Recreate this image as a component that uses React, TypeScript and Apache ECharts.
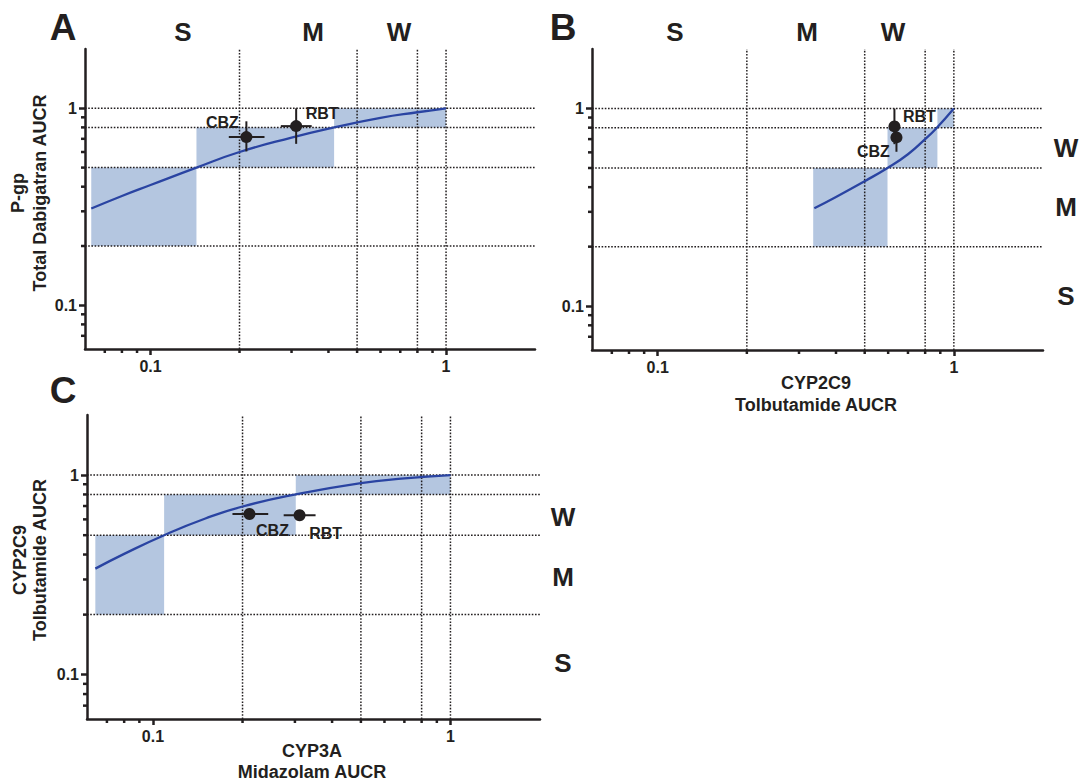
import React, { useEffect, useRef } from 'react';
import * as echarts from 'echarts';

// ---- Axis settings (both axes log10, same range in all panels) ----
const AX_MIN = 0.06;
const AX_MAX = 2;
const refLinesX = [0.2, 0.5, 0.8, 1];
const refLinesY = [0.2, 0.5, 0.8, 1];
const majorTicks = [0.1, 1];
const minorTicks = [0.07, 0.08, 0.09, 0.2, 0.3, 0.4, 0.5, 0.6, 0.7, 0.8, 0.9];
const tickLabels = ['0.1', '1'];

const drugNames = ['CBZ', 'RBT'];

// ---- Panel A: CYP3A (midazolam AUCR) vs P-gp (dabigatran AUCR) ----
const curveA_x = [0.063, 0.08, 0.1, 0.143, 0.2, 0.3, 0.418, 0.6, 0.8, 1];
const curveA_y = [0.31, 0.359, 0.408, 0.5, 0.6, 0.71, 0.8, 0.895, 0.955, 1];
// [xFrom, xTo, yFrom, yTo]
const rectsA = [
  [0.063, 0.143, 0.2, 0.5],
  [0.143, 0.418, 0.5, 0.8],
  [0.418, 1, 0.8, 1],
];
// [x, y, xLow, xHigh, yLow, yHigh]
const pointsA = [
  [0.211, 0.714, 0.184, 0.243, 0.604, 0.859],
  [0.311, 0.812, 0.276, 0.351, 0.66, 1.0],
];

// ---- Panel B: CYP2C9 (tolbutamide AUCR) vs P-gp (dabigatran AUCR) ----
const curveB_x = [0.338, 0.4, 0.5, 0.597, 0.7, 0.8, 0.87, 1];
const curveB_y = [0.313, 0.357, 0.429, 0.5, 0.587, 0.7, 0.79, 1];
const rectsB = [
  [0.335, 0.597, 0.2, 0.5],
  [0.597, 0.88, 0.5, 0.8],
  [0.88, 1, 0.8, 1],
];
const pointsB = [
  [0.64, 0.714, 0.64, 0.64, 0.604, 0.859],
  [0.63, 0.812, 0.63, 0.63, 0.66, 1.0],
];

// ---- Panel C: CYP3A (midazolam AUCR) vs CYP2C9 (tolbutamide AUCR) ----
const curveC_x = [0.064, 0.08, 0.109, 0.15, 0.2, 0.302, 0.5, 0.7, 1];
const curveC_y = [0.34, 0.403, 0.5, 0.606, 0.696, 0.8, 0.912, 0.962, 1];
const rectsC = [
  [0.064, 0.109, 0.2, 0.5],
  [0.109, 0.302, 0.5, 0.8],
  [0.302, 1, 0.8, 1],
];
const pointsC = [
  [0.211, 0.638, 0.185, 0.244, 0.638, 0.638],
  [0.311, 0.629, 0.275, 0.352, 0.629, 0.629],
];

// ---- Styles ----
const FONT = '"Liberation Sans", Arial, Helvetica, sans-serif';
const INK = '#231f20';
const CURVE = '#2a44a2';
const SHADE = '#b4c6e0';

const grids = [
  { left: 85, top: 49, width: 450, height: 300 },
  { left: 592, top: 49, width: 451, height: 301 },
  { left: 87, top: 415, width: 453, height: 304 },
];
const labelOffsets = [
  [[-24, -15], [26, -13]],
  [[-23, 14], [25, -10]],
  [[23, 16], [26, 18]],
];

function axisCommon(gridIndex: number, isX: boolean) {
  return {
    gridIndex,
    type: 'log',
    logBase: 10,
    min: AX_MIN,
    max: AX_MAX,
    axisLine: { show: true, onZero: false, lineStyle: { color: INK, width: 2.5 } },
    axisTick: {
      show: true,
      customValues: majorTicks,
      length: 6,
      lineStyle: { color: INK, width: 2.5 },
    },
    splitLine: { show: false },
    minorTick: { show: false },
    axisLabel: {
      showMinLabel: false,
      showMaxLabel: false,
      margin: isX ? 9 : 8,
      color: INK,
      fontSize: 16,
      fontWeight: 'bold',
      fontFamily: FONT,
      formatter: (v: number) => {
        for (let i = 0; i < majorTicks.length; i++) {
          if (Math.abs(v - majorTicks[i]) < 1e-9) return tickLabels[i];
        }
        return '';
      },
    },
  };
}

function panelSeries(
  gi: number,
  curveX: number[],
  curveY: number[],
  rects: number[][],
  points: number[][]
) {
  const base = { xAxisIndex: gi, yAxisIndex: gi };
  const offs = labelOffsets[gi];
  return [
    {
      ...base,
      type: 'custom',
      z: 1,
      clip: false,
      encode: { x: [0, 1], y: [2, 3] },
      data: rects,
      renderItem: (params: any, api: any) => {
        const p0 = api.coord([api.value(0), api.value(2)]);
        const p1 = api.coord([api.value(1), api.value(3)]);
        return {
          type: 'rect',
          shape: { x: p0[0], y: p1[1], width: p1[0] - p0[0], height: p0[1] - p1[1] },
          style: { fill: SHADE },
        };
      },
    },
    {
      ...base,
      type: 'custom',
      z: 2,
      clip: false,
      data: refLinesX.map((v) => [v, 1]),
      renderItem: (params: any, api: any) => {
        const a = api.coord([api.value(0), AX_MIN]);
        const b = api.coord([api.value(0), AX_MAX]);
        return {
          type: 'line',
          shape: { x1: a[0], y1: a[1], x2: b[0], y2: b[1] },
          style: { stroke: INK, lineWidth: 1.5, lineDash: [1.6, 1.6] },
        };
      },
    },
    {
      ...base,
      type: 'custom',
      z: 2,
      clip: false,
      data: refLinesY.map((v) => [1, v]),
      renderItem: (params: any, api: any) => {
        const a = api.coord([AX_MIN, api.value(1)]);
        const b = api.coord([AX_MAX, api.value(1)]);
        return {
          type: 'line',
          shape: { x1: a[0], y1: a[1], x2: b[0], y2: b[1] },
          style: { stroke: INK, lineWidth: 1.5, lineDash: [1.6, 1.6] },
        };
      },
    },
    {
      ...base,
      type: 'custom',
      z: 6,
      clip: false,
      data: minorTicks.map((v) => [v, 1]),
      renderItem: (params: any, api: any) => {
        const p = api.coord([api.value(0), AX_MIN]);
        return {
          type: 'line',
          shape: { x1: p[0], y1: p[1], x2: p[0], y2: p[1] + 4 },
          style: { stroke: INK, lineWidth: 2.5 },
        };
      },
    },
    {
      ...base,
      type: 'custom',
      z: 6,
      clip: false,
      data: minorTicks.map((v) => [1, v]),
      renderItem: (params: any, api: any) => {
        const p = api.coord([AX_MIN, api.value(1)]);
        return {
          type: 'line',
          shape: { x1: p[0], y1: p[1], x2: p[0] - 4, y2: p[1] },
          style: { stroke: INK, lineWidth: 2.5 },
        };
      },
    },
    {
      ...base,
      type: 'line',
      z: 4,
      smooth: 0.5,
      showSymbol: false,
      symbol: 'none',
      lineStyle: { color: CURVE, width: 2.3 },
      data: curveX.map((x, i) => [x, curveY[i]]),
    },
    {
      ...base,
      type: 'custom',
      z: 5,
      clip: false,
      data: points,
      renderItem: (params: any, api: any) => {
        const x = api.value(0);
        const y = api.value(1);
        const c = api.coord([x, y]);
        const xl = api.coord([api.value(2), y]);
        const xh = api.coord([api.value(3), y]);
        const yl = api.coord([x, api.value(4)]);
        const yh = api.coord([x, api.value(5)]);
        const off = offs[params.dataIndex];
        return {
          type: 'group',
          children: [
            {
              type: 'line',
              shape: { x1: xl[0], y1: c[1], x2: xh[0], y2: c[1] },
              style: { stroke: INK, lineWidth: 2 },
            },
            {
              type: 'line',
              shape: { x1: c[0], y1: yl[1], x2: c[0], y2: yh[1] },
              style: { stroke: INK, lineWidth: 2 },
            },
            {
              type: 'circle',
              shape: { cx: c[0], cy: c[1], r: 6 },
              style: { fill: INK },
            },
            {
              type: 'text',
              x: c[0] + off[0],
              y: c[1] + off[1],
              style: {
                text: drugNames[params.dataIndex],
                fill: INK,
                fontSize: 16,
                fontWeight: 'bold',
                fontFamily: FONT,
                textAlign: 'center',
                textVerticalAlign: 'middle',
              },
            },
          ],
        };
      },
    },
  ];
}

function txt(text: string, x: number, y: number, size: number, rotate = 0) {
  return {
    type: 'text',
    x,
    y,
    rotation: rotate,
    style: {
      text,
      fill: INK,
      fontSize: size,
      fontWeight: 'bold',
      fontFamily: FONT,
      textAlign: 'center',
      textVerticalAlign: 'middle',
    },
  };
}

export default function App() {
  const ref = useRef<HTMLDivElement>(null);
  useEffect(() => {
    if (!ref.current) return;
    const chart = echarts.init(ref.current, null, { renderer: 'svg' });
    const R = Math.PI / 2;
    chart.setOption({
      animation: false,
      backgroundColor: '#ffffff',
      grid: grids.map((g) => ({ ...g, containLabel: false })),
      xAxis: [axisCommon(0, true), axisCommon(1, true), axisCommon(2, true)],
      yAxis: [axisCommon(0, false), axisCommon(1, false), axisCommon(2, false)],
      series: [
        ...panelSeries(0, curveA_x, curveA_y, rectsA, pointsA),
        ...panelSeries(1, curveB_x, curveB_y, rectsB, pointsB),
        ...panelSeries(2, curveC_x, curveC_y, rectsC, pointsC),
      ],
      graphic: [
        txt('A', 63, 27, 37),
        txt('B', 563, 27, 37),
        txt('C', 63, 390, 37),
        txt('S', 183, 32, 26),
        txt('M', 313, 32, 26),
        txt('W', 399, 32, 26),
        txt('S', 675, 32, 26),
        txt('M', 807, 32, 26),
        txt('W', 893, 32, 26),
        txt('W', 1066, 148, 26),
        txt('M', 1066, 207, 26),
        txt('S', 1066, 296, 26),
        txt('W', 563, 517, 26),
        txt('M', 563, 577, 26),
        txt('S', 563, 663, 26),
        txt('P-gp', 18, 193, 18, R),
        txt('Total Dabigatran AUCR', 40, 193, 18, R),
        txt('CYP2C9', 816, 383, 18),
        txt('Tolbutamide AUCR', 816, 405, 18),
        txt('CYP2C9', 20, 560, 18, R),
        txt('Tolbutamide AUCR', 40, 560, 18, R),
        txt('CYP3A', 312, 751, 18),
        txt('Midazolam AUCR', 312, 772, 18),
      ],
    });
    return () => chart.dispose();
  }, []);
  return (
    <div
      ref={ref}
      style={{ position: 'absolute', left: 0, top: 0, width: 1079, height: 783, background: '#fff' }}
    />
  );
}
